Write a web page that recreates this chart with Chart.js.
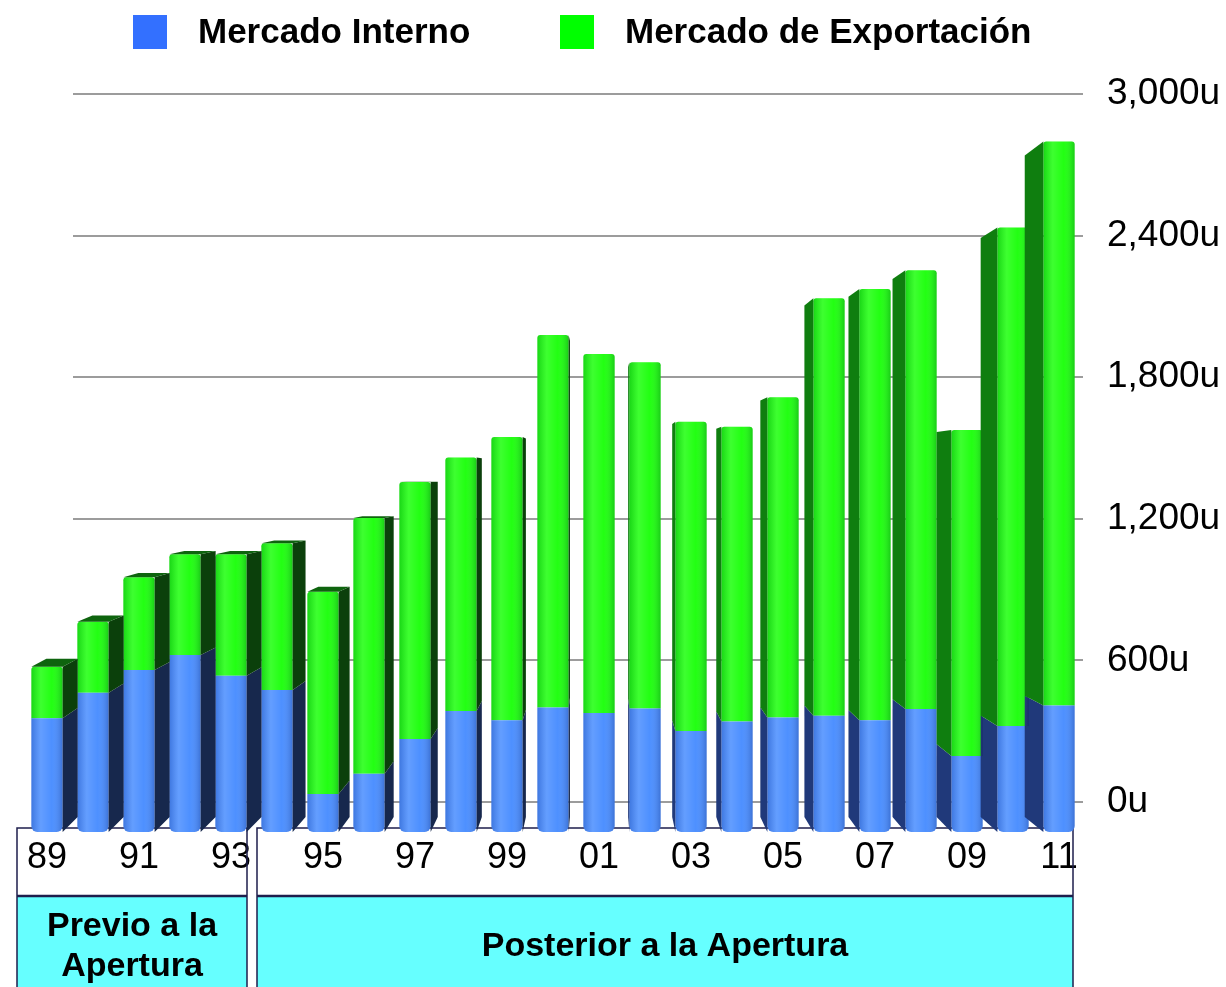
<!DOCTYPE html>
<html>
<head>
<meta charset="utf-8">
<title>Mercado Interno / Exportación</title>
<script src="https://cdn.jsdelivr.net/npm/chart.js@4.4.1/dist/chart.umd.min.js"></script>
<style>
  body { margin: 0; background: #fff; }
  .chart-box { width: 1226px; height: 987px; }
</style>
</head>
<body>
<div class="chart-box"><canvas id="myChart"></canvas></div>
<script>
const years = ['89', '90', '91', '92', '93', '94', '95', '96', '97', '98', '99',
  '00', '01', '02', '03', '04', '05', '06', '07', '08', '09', '10', '11'];

const mercadoInterno = [355, 463, 559, 623, 535, 475, 34, 120, 267, 386, 347,
  400, 377, 396, 301, 341, 358, 366, 346, 394, 195, 322, 409];

const mercadoExportacion = [218, 301, 393, 427, 515, 621, 857, 1083, 1089, 1074, 1200,
  1579, 1521, 1467, 1310, 1249, 1357, 1769, 1828, 1859, 1381, 2112, 2390];

const yTicks = [0, 600, 1200, 1800, 2400, 3000];

// the front of the 3D floor sits a bit below the 0u line
const floorValue = -127;

const groupLabels = [['Previo a la', 'Apertura'], ['Posterior a la Apertura']];
const groupFirst = ['89', '94'];
const groupLast = ['93', '11'];

const FONT = '"Liberation Sans", Arial, sans-serif';

// gridlines on the back wall, they start a bit right of the floor corner
const wallGrid = {
    id: 'wallGrid',
    beforeDatasetsDraw(chart) {
        const ctx = chart.ctx;
        const area = chart.chartArea;
        const y = chart.scales.y;
        ctx.save();
        ctx.strokeStyle = '#9c9c9c';
        ctx.lineWidth = 2;
        y.ticks.forEach(t => {
            const py = Math.round(y.getPixelForValue(t.value));
            ctx.beginPath();
            ctx.moveTo(area.left + 49, py);
            ctx.lineTo(area.right + 1, py);
            ctx.stroke();
        });
        ctx.restore();
    }
};

// boxes under the axis: "Previo" / "Posterior a la Apertura"
const groupBoxes = {
    id: 'groupBoxes',
    beforeDatasetsDraw(chart) {
        const ctx = chart.ctx;
        const x = chart.scales.x;
        const area = chart.chartArea;
        const half = (x.getPixelForValue(1) - x.getPixelForValue(0)) / 2;
        const insetL = [-7, 3];
        const insetR = [-7, -9];
        const top = area.bottom - 4;
        const split = area.bottom + 64;
        const bottom = chart.height + 2;

        ctx.save();
        groupLabels.forEach((lines, i) => {
            const left = x.getPixelForValue(years.indexOf(groupFirst[i])) - half + insetL[i];
            const right = x.getPixelForValue(years.indexOf(groupLast[i])) + half + insetR[i];

            ctx.fillStyle = '#66ffff';
            ctx.fillRect(left, split, right - left, bottom - split);

            ctx.strokeStyle = '#1e1e4c';
            ctx.lineWidth = 1.5;
            ctx.strokeRect(left, top, right - left, bottom - top);
            ctx.lineWidth = 2.5;
            ctx.beginPath();
            ctx.moveTo(left, split);
            ctx.lineTo(right, split);
            ctx.stroke();

            ctx.fillStyle = '#000';
            ctx.font = 'bold 34px ' + FONT;
            ctx.textAlign = 'center';
            ctx.textBaseline = 'middle';
            lines.forEach((txt, j) => {
                ctx.fillText(txt, (left + right) / 2, 947 + (j - (lines.length - 1) / 2) * 40);
            });
        });
        ctx.restore();
    }
};

// fake 3D: shading on the front, side faces and top caps toward a vanishing point
const bars3d = {
    id: 'bars3d',
    afterDatasetsDraw(chart) {
        const ctx = chart.ctx;
        const VPX = 600, VPY = 475, DEPTH = 0.042;
        const last = chart.data.datasets.length - 1;
        ctx.save();
        chart.data.datasets.forEach((ds, di) => {
            const meta = chart.getDatasetMeta(di);
            meta.data.forEach(bar => {
                const {x, y, base, width} = bar.getProps(['x', 'y', 'base', 'width'], true);
                const x0 = x - width / 2, x1 = x + width / 2;

                const g = ctx.createLinearGradient(x0, 0, x1, 0);
                g.addColorStop(0, 'rgba(0,0,60,0.16)');
                g.addColorStop(0.3, 'rgba(255,255,255,0.14)');
                g.addColorStop(0.65, 'rgba(255,255,255,0.02)');
                g.addColorStop(1, 'rgba(0,0,50,0.2)');
                ctx.fillStyle = g;
                ctx.beginPath();
                ctx.roundRect(x0, y, width, base - y, ds.faceRadius);
                ctx.fill();

                let edge, dx;
                if (x1 < VPX) {
                    edge = x1;
                    dx = Math.min((VPX - x1) * DEPTH, 15);
                } else if (x0 > VPX) {
                    edge = x0;
                    dx = (VPX - x0) * DEPTH;
                } else {
                    return;
                }
                const dyTop = (VPY - y) * DEPTH;
                const dyBot = (VPY - base) * DEPTH;

                ctx.fillStyle = dx > 0 ? ds.sideDark : ds.sideLight;
                ctx.beginPath();
                ctx.moveTo(edge, y);
                ctx.lineTo(edge + dx, y + dyTop);
                ctx.lineTo(edge + dx, base + dyBot);
                ctx.lineTo(edge, base);
                ctx.closePath();
                ctx.fill();

                if (di === last && dyTop < 0) {
                    ctx.fillStyle = ds.capColor;
                    ctx.beginPath();
                    ctx.moveTo(x0, y);
                    ctx.lineTo(x1, y);
                    ctx.lineTo(x1 + dx, y + dyTop);
                    ctx.lineTo(x0 + dx, y + dyTop);
                    ctx.closePath();
                    ctx.fill();
                }
            });
        });
        ctx.restore();
    }
};

const topLegend = {
    id: 'topLegend',
    afterDraw(chart) {
        const ctx = chart.ctx;
        const itemX = [133, 560];
        ctx.save();
        ctx.font = 'bold 35px ' + FONT;
        ctx.textBaseline = 'middle';
        ctx.textAlign = 'left';
        chart.data.datasets.forEach((ds, i) => {
            ctx.fillStyle = ds.legendColor;
            ctx.fillRect(itemX[i], 15, 34, 34);
            ctx.fillStyle = '#000';
            ctx.fillText(ds.label, itemX[i] + 65, 33);
        });
        ctx.restore();
    }
};

const data = {
    labels: years,
    datasets: [{
        label: 'Mercado Interno',
        data: mercadoInterno,
        base: floorValue,
        backgroundColor: '#4a8eff',
        borderWidth: 0,
        borderSkipped: false,
        borderRadius: {topLeft: 0, topRight: 0, bottomLeft: 6, bottomRight: 6},
        faceRadius: [0, 0, 6, 6],
        sideDark: '#17284d',
        sideLight: '#20397a',
        capColor: '#1c3266',
        legendColor: '#3370ff'
    }, {
        label: 'Mercado de Exportación',
        data: mercadoExportacion,
        backgroundColor: '#1eff0e',
        borderWidth: 0,
        borderRadius: {topLeft: 3, topRight: 3, bottomLeft: 0, bottomRight: 0},
        faceRadius: [3, 3, 0, 0],
        sideDark: '#0b400b',
        sideLight: '#0f7e0f',
        capColor: '#0e640e',
        legendColor: '#00ff00'
    }]
};

const config = {
    type: 'bar',
    data: data,
    plugins: [wallGrid, groupBoxes, bars3d, topLegend],
    options: {
        responsive: true,
        maintainAspectRatio: false,
        animation: false,
        layout: {
            padding: {top: 94, left: 24, right: 0, bottom: 0}
        },
        datasets: {
            bar: {
                barPercentage: 0.68,
                categoryPercentage: 1
            }
        },
        plugins: {
            legend: { display: false },
            tooltip: { enabled: false }
        },
        scales: {
            x: {
                stacked: true,
                grid: { display: false, drawTicks: false },
                border: { display: false },
                ticks: {
                    autoSkip: false,
                    maxRotation: 0,
                    padding: 4,
                    color: '#000',
                    font: { family: FONT, size: 36 },
                    callback: (v, i) => (i % 2 === 0 ? years[i] : '')
                },
                afterFit(scale) { scale.height = 155; }
            },
            y: {
                stacked: true,
                position: 'right',
                min: floorValue,
                max: 3000,
                grid: { display: false, drawTicks: false },
                border: { display: false },
                afterBuildTicks(scale) {
                    scale.ticks = yTicks.map(v => ({ value: v }));
                },
                ticks: {
                    padding: 25,
                    color: '#000',
                    font: { family: FONT, size: 37 },
                    callback: v => v.toLocaleString('en-US') + 'u'
                },
                afterFit(scale) { scale.width = 144; }
            }
        }
    }
};

const myChart = new Chart(document.getElementById('myChart'), config);
</script>
</body>
</html>
